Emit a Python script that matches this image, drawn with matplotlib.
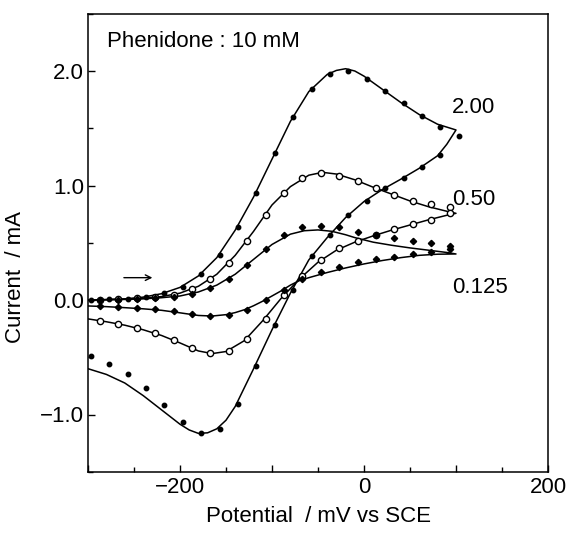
import matplotlib
matplotlib.use("Agg")
from matplotlib import pyplot as plt
from matplotlib.ticker import MultipleLocator

plt.rcParams['font.family'] = ['Liberation Sans', 'DejaVu Sans']

# simulated CV lines (potential mV, current mA), forward then reverse
line200_E = [-300, -280, -260, -240, -220, -200, -180, -160, -140, -120, -100, -80, -60, -40, -30, -20, -10, 0, 20, 40, 60, 80, 100,
             90, 80, 60, 40, 20, 0, -20, -40, -60, -80, -100, -120, -140, -150, -160, -170, -180, -190, -200, -220, -240, -260, -280, -300]
line200_I = [0.0, 0.004, 0.01, 0.025, 0.055, 0.11, 0.21, 0.37, 0.61, 0.90, 1.23, 1.56, 1.82, 1.97, 2.005, 2.02, 2.0, 1.955, 1.84, 1.725, 1.62, 1.535, 1.485,
             1.36, 1.26, 1.15, 1.055, 0.965, 0.86, 0.72, 0.545, 0.35, 0.06, -0.26, -0.60, -0.93, -1.05, -1.125, -1.16, -1.165, -1.135, -1.085, -0.96, -0.835, -0.725, -0.65, -0.60]

line050_E = [-300, -280, -260, -240, -220, -200, -180, -160, -140, -120, -100, -80, -60, -45, -30, -10, 10, 30, 50, 70, 90, 100,
             90, 70, 50, 30, 10, -10, -30, -50, -70, -90, -110, -130, -150, -165, -180, -200, -220, -240, -260, -280, -300]
line050_I = [0.0, 0.003, 0.007, 0.015, 0.03, 0.06, 0.12, 0.225, 0.39, 0.60, 0.83, 0.99, 1.09, 1.115, 1.10, 1.05, 0.985, 0.925, 0.865, 0.815, 0.775, 0.757,
             0.74, 0.70, 0.655, 0.61, 0.56, 0.505, 0.435, 0.33, 0.185, 0.015, -0.18, -0.355, -0.45, -0.468, -0.445, -0.375, -0.31, -0.26, -0.22, -0.19, -0.165]

line0125_E = [-300, -280, -260, -240, -220, -200, -180, -160, -140, -120, -100, -80, -65, -50, -35, -20, -10, 10, 30, 50, 70, 90, 100,
              80, 60, 40, 20, 0, -20, -40, -60, -70, -80, -90, -100, -110, -120, -130, -140, -150, -165, -180, -200, -220, -240, -260, -280, -300]
line0125_I = [0.0, 0.002, 0.005, 0.01, 0.02, 0.035, 0.07, 0.13, 0.225, 0.355, 0.485, 0.575, 0.605, 0.612, 0.60, 0.57, 0.545, 0.505, 0.478, 0.455, 0.435, 0.415, 0.402,
              0.40, 0.39, 0.37, 0.345, 0.315, 0.28, 0.24, 0.195, 0.17, 0.13, 0.08, 0.035, -0.01, -0.05, -0.085, -0.11, -0.128, -0.14, -0.135, -0.112, -0.09, -0.077, -0.067, -0.058, -0.052]

# experimental points
pts200_E = [-297, -277, -257, -237, -217, -197, -177, -157, -137, -117, -97, -77, -57, -37, -17, 3, 23, 43, 63, 83, 103,
            83, 63, 43, 23, 3, -17, -37, -57, -77, -97, -117, -137, -157, -177, -197, -217, -237, -257, -277, -297]
pts200_I = [0.003, 0.006, 0.01, 0.029, 0.058, 0.116, 0.226, 0.393, 0.635, 0.937, 1.281, 1.601, 1.840, 1.974, 2.003, 1.927, 1.825, 1.717, 1.607, 1.514, 1.435,
            1.266, 1.159, 1.063, 0.975, 0.865, 0.742, 0.57, 0.384, 0.09, -0.218, -0.576, -0.908, -1.127, -1.164, -1.068, -0.914, -0.771, -0.649, -0.559, -0.489]

pts_E = [-287, -267, -247, -227, -207, -187, -167, -147, -127, -107, -87, -67, -47, -27, -7, 13, 33, 53, 73, 93,
         93, 73, 53, 33, 13, -7, -27, -47, -67, -87, -107, -127, -147, -167, -187, -207, -227, -247, -267, -287]
pts050_I = [0.004, 0.008, 0.015, 0.03, 0.047, 0.095, 0.18, 0.32, 0.512, 0.745, 0.937, 1.068, 1.112, 1.086, 1.04, 0.98, 0.917, 0.867, 0.835, 0.81,
            0.757, 0.699, 0.661, 0.617, 0.568, 0.515, 0.451, 0.349, 0.21, 0.044, -0.165, -0.34, -0.445, -0.466, -0.416, -0.349, -0.291, -0.247, -0.21, -0.18]
pts0125_I = [0.002, 0.004, 0.008, 0.015, 0.028, 0.052, 0.105, 0.185, 0.308, 0.447, 0.568, 0.64, 0.65, 0.64, 0.597, 0.57, 0.539, 0.517, 0.495, 0.472,
             0.445, 0.422, 0.402, 0.378, 0.355, 0.329, 0.291, 0.247, 0.18, 0.087, 0.0, -0.087, -0.131, -0.14, -0.122, -0.096, -0.079, -0.073, -0.061, -0.052]

rate_labels = ['2.00', '0.50', '0.125']
rate_label_y = [1.633, 0.83, 0.064]

fs = 16

fig = plt.figure(figsize=(5.68, 5.38), dpi=100)
ax = fig.add_axes([88 / 568, 1 - 471.75 / 538, 460 / 568, 458 / 538])

ax.plot(line200_E, line200_I, color='black', lw=1.1)
ax.plot(line050_E, line050_I, color='black', lw=1.1)
ax.plot(line0125_E, line0125_I, color='black', lw=1.1)

ax.plot(pts200_E, pts200_I, 'o', color='black', ms=3.2, ls='none')
ax.plot(pts_E, pts050_I, 'o', mfc='white', mec='black', mew=1.0, ms=4.5, ls='none')
ax.plot(pts_E, pts0125_I, 'D', color='black', ms=3.2, ls='none')

for lab, yy in zip(rate_labels, rate_label_y):
    ax.text(96, yy, lab, fontsize=fs, ha='left', va='baseline')

ax.text(-279, 2.212, 'Phenidone : 10 mM', fontsize=fs, ha='left', va='baseline')
ax.annotate('', xy=(-227, 0.195), xytext=(-264, 0.195),
            arrowprops=dict(arrowstyle='->', color='black', lw=1.0))

ax.set_xlim(-300, 200)
ax.set_ylim(-1.5, 2.5)
ax.set_xticks([-300, -200, -100, 0, 100, 200])
ax.set_xticklabels(['', '\u2212200', '', '0', '', '200'])
ax.xaxis.set_minor_locator(MultipleLocator(50))
ax.set_yticks([-1.0, 0.0, 1.0, 2.0])
ax.set_yticklabels(['\u22121.0', '0.0', '1.0', '2.0'])
ax.yaxis.set_minor_locator(MultipleLocator(0.5))
ax.tick_params(which='major', direction='in', length=5, width=1.0, labelsize=fs, pad=4)
ax.tick_params(which='minor', direction='in', length=3.5, width=1.0)
ax.tick_params(axis='y', which='major', pad=3)
for sp in ax.spines.values():
    sp.set_linewidth(1.1)

ax.set_xlabel('Potential  / mV vs SCE', fontsize=fs)
ax.set_ylabel('Current  / mA', fontsize=fs)
ax.xaxis.set_label_coords(0.5, -0.075)
ax.yaxis.set_label_coords(-0.135, 0.425)

fig.savefig('out.png', dpi=100)
